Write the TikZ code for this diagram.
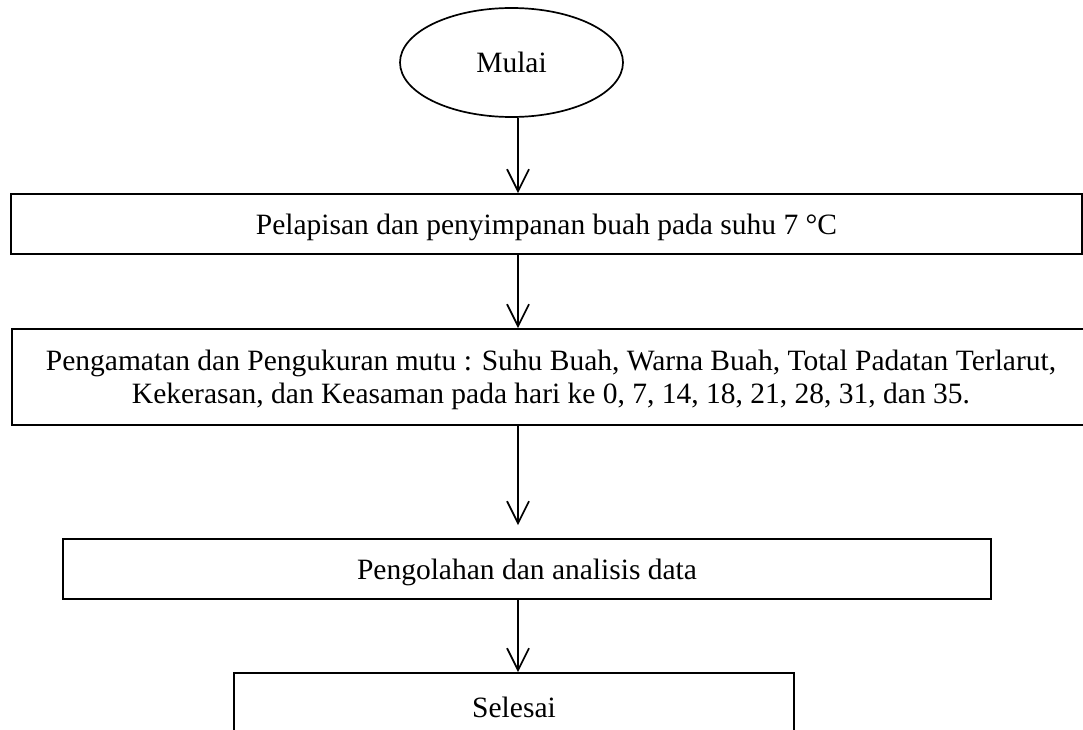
\documentclass[tikz,border=0pt]{standalone}
\usepackage{fontspec}
\setmainfont{Liberation Serif}
\usetikzlibrary{shapes.geometric,arrows.meta}

\tikzset{
	stepbox/.style={draw, rectangle, inner sep=0pt, align=center, text depth=0pt, line width=1.9pt},
	flow/.style={-{Straight Barb[length=22pt,width=22pt,line width=1.7pt]}, line width=1.7pt}
}

\begin{document}
\begin{tikzpicture}[x=1pt, y=-1pt, font=\fontsize{29.5}{33}\selectfont]
	
	\useasboundingbox (0,0) rectangle (1083,730);
	
	% Start
	\node[draw, ellipse, line width=1.7pt, text depth=0pt, minimum width=223pt, minimum height=109pt] (start) at (511.5,62.5) {Mulai};
	
	% Steps
	\node[stepbox, minimum width=1071pt, minimum height=60pt] (coat) at (546.5,224) {Pelapisan dan penyimpanan buah pada suhu 7 \textdegree C};
	\node[stepbox, minimum width=1078pt, minimum height=96pt] (obs) at (551,377) {Pengamatan dan Pengukuran mutu : Suhu Buah, Warna Buah, Total Padatan Terlarut,\\Kekerasan, dan Keasaman pada hari ke 0, 7, 14, 18, 21, 28, 31, dan 35.};
	\node[stepbox, minimum width=928pt, minimum height=60pt] (proc) at (527,569) {Pengolahan dan analisis data};
	\node[stepbox, minimum width=560pt, minimum height=68pt] (finish) at (514,707) {Selesai};
	
	% Arrows
	\coordinate (spine) at (518,0);
	\draw[flow] (start.south -| spine) -- (coat.north -| spine);
	\draw[flow] (coat.south -| spine) -- (obs.north -| spine);
	\draw[flow, shorten >=13pt] (obs.south -| spine) -- (proc.north -| spine);
	\draw[flow] (proc.south -| spine) -- (finish.north -| spine);
	
\end{tikzpicture}
\end{document}
